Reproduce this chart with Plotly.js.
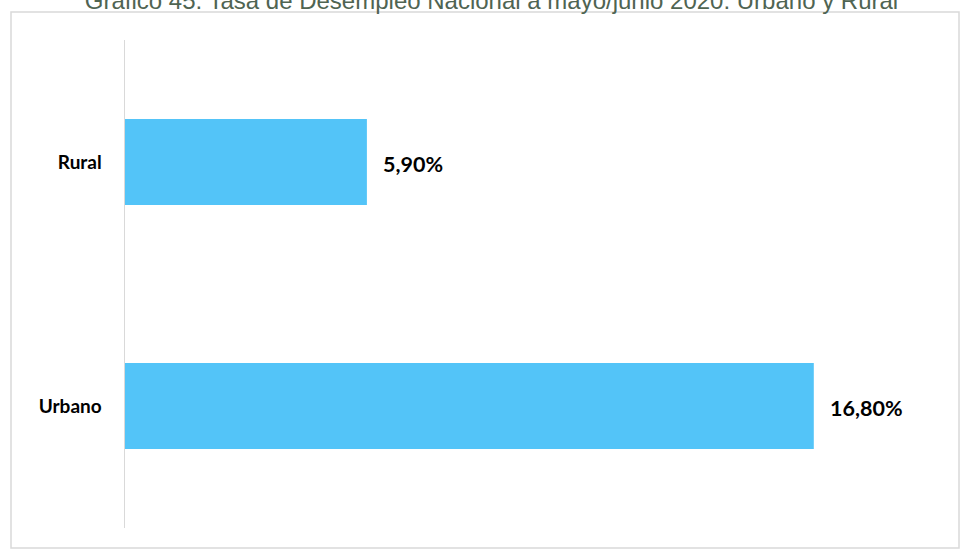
<!DOCTYPE html>
<html>
<head>
<meta charset="utf-8">
<script src="https://cdn.plot.ly/plotly-3.0.1.min.js"></script>
<style>html,body{margin:0;padding:0;background:#fff;}#chart{width:960px;height:550px;}</style>
</head>
<body>
<div id="chart"></div>
<script>
var categories = ["Urbano", "Rural"];
var values = [16.8, 5.9];
var valueLabels = ["16,80%", "5,90%"];
var titleText = "Gráfico 45: Tasa de Desempleo Nacional a mayo/junio 2020: Urbano y Rural";

var trace = {
  type: "bar",
  orientation: "h",
  y: categories,
  x: values,
  marker: {color: "#53C4F8"},
  width: 0.352,
  hoverinfo: "none"
};

var annotations = categories.map(function (c, i) {
  return {
    x: values[i], y: c, xref: "x", yref: "y",
    text: valueLabels[i], showarrow: false,
    xanchor: "left", yanchor: "middle", xshift: 14, yshift: -2,
    font: {family: "Lato, 'Open Sans', sans-serif", size: 21.5, color: "#000", weight: "bold"}
  };
});

var layout = {
  width: 960, height: 550,
  margin: {l: 125, r: 15, t: 40, b: 22},
  paper_bgcolor: "#fff", plot_bgcolor: "#fff",
  showlegend: false,
  title: {
    text: titleText,
    font: {family: "'Liberation Sans', Arial, sans-serif", size: 24, color: "#4F6452"},
    xref: "container", yref: "container",
    x: 491.5/960, xanchor: "center",
    y: 0.999, yanchor: "middle"
  },
  xaxis: {range: [0, 20], showgrid: false, zeroline: false, showline: false, showticklabels: false, ticks: ""},
  yaxis: {
    range: [-0.5, 1.5],
    showgrid: false, zeroline: false,
    showline: true, linecolor: "#D9D9D9", linewidth: 1.5,
    ticks: "", ticklabelstandoff: 18,
    tickfont: {family: "Lato, 'Open Sans', sans-serif", size: 19, color: "#000", weight: "bold"}
  },
  annotations: annotations,
  shapes: [{
    type: "rect", xref: "paper", yref: "paper",
    x0: (11 - 125) / 820, x1: (959 - 125) / 820,
    y0: (528 - 548) / 488, y1: (528 - 12) / 488,
    line: {color: "#D9D9D9", width: 1.5}, fillcolor: "rgba(0,0,0,0)", layer: "below"
  }]
};

Plotly.newPlot("chart", [trace], layout, {displayModeBar: false, staticPlot: true});
</script>
</body>
</html>
